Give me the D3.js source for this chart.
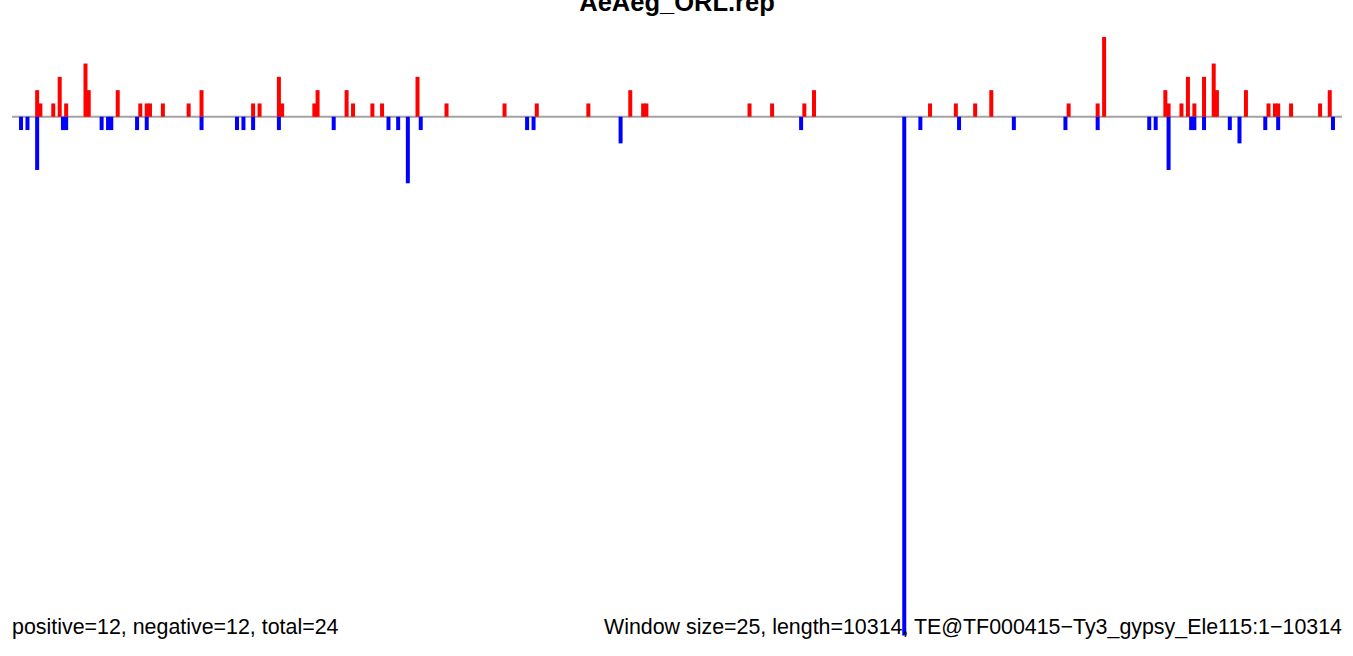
<!DOCTYPE html>
<html>
<head>
<meta charset="utf-8">
<script src="https://cdn.jsdelivr.net/npm/d3@7"></script>
<style>
  html, body { margin: 0; padding: 0; background: #fff; }
  svg { display: block; font-family: "Liberation Sans", Arial, Helvetica, sans-serif; }
</style>
</head>
<body>
<svg id="chart" width="1353" height="656"></svg>
<script>
// ---- Data (window index along the element, count per window) ----
const title = "AeAeg_ORL.rep";
const leftNote = "positive=12, negative=12, total=24";
const rightNote = "Window size=25, length=10314, TE@TF000415\u2212Ty3_gypsy_Ele115:1\u221210314";

const posIndex = [7, 8, 12, 14, 16, 22, 23, 32, 39, 41, 42, 46, 54, 58,
  74, 76, 82, 83, 93, 94, 103, 105, 111, 114, 125, 134,
  152, 162, 178, 191, 195, 196,
  228, 235, 245, 248,
  284, 292, 298, 303, 327, 336, 338,
  357, 358, 362, 364, 366, 369, 372, 373, 382, 389, 391, 392, 396, 405, 408];
const posValue = [2, 1, 1, 3, 1, 4, 2, 2, 1, 1, 1, 1, 1, 2,
  1, 1, 3, 1, 1, 2, 2, 1, 1, 1, 3, 1,
  1, 1, 1, 2, 1, 1,
  1, 1, 1, 2,
  1, 1, 1, 2, 1, 1, 6,
  2, 1, 1, 3, 1, 3, 4, 2, 2, 1, 1, 1, 1, 1, 2];

const negIndex = [2, 4, 7, 15, 16, 27, 29, 30, 38, 41, 58,
  69, 71, 74, 82, 99, 116, 119, 122, 126,
  159, 161, 188, 244,
  276, 281, 293, 310, 326, 336,
  352, 354, 358, 365, 366, 369, 377, 380, 388, 392, 409];
const negValue = [-1, -1, -4, -1, -1, -1, -1, -1, -1, -1, -1,
  -1, -1, -1, -1, -1, -1, -1, -5, -1,
  -1, -1, -2, -1,
  -39, -1, -1, -1, -1, -1,
  -1, -1, -4, -1, -1, -1, -1, -2, -1, -1, -1];

// ---- Layout ----
const W = 1353, H = 656;
const plot = { left: 12, right: 1342, top: 13, bottom: 659.5 };

const svg = d3.select("#chart");

const pos = posIndex.map((d, i) => ({ x: d, v: posValue[i] }));
const neg = negIndex.map((d, i) => ({ x: d, v: negValue[i] }));
const all = pos.concat(neg);

const x = d3.scaleLinear().domain([-0.8, 411.8]).range([plot.left, plot.right]);
const yExt = d3.extent(all, d => d.v);
const pad = (yExt[1] - yExt[0]) * 0.04;
const y = d3.scaleLinear().domain([yExt[0] - pad, yExt[1] + pad]).range([plot.bottom, plot.top]);

// baseline
svg.append("line")
  .attr("x1", plot.left).attr("x2", plot.right)
  .attr("y1", y(0)).attr("y2", y(0))
  .attr("stroke", "#a3a3a3").attr("stroke-width", 2);

const barW = 4;
svg.append("g").selectAll("rect.pos").data(pos).join("rect")
  .attr("class", "pos")
  .attr("x", d => x(d.x) - barW / 2)
  .attr("width", barW)
  .attr("y", d => y(d.v))
  .attr("height", d => y(0) - y(d.v))
  .attr("fill", "#ff0000");

svg.append("g").selectAll("rect.neg").data(neg).join("rect")
  .attr("class", "neg")
  .attr("x", d => x(d.x) - barW / 2)
  .attr("width", barW)
  .attr("y", y(0))
  .attr("height", d => y(d.v) - y(0))
  .attr("fill", "#0000ff");

// title (partly cut off at the top, as in the original)
svg.append("text")
  .attr("x", (plot.left + plot.right) / 2)
  .attr("y", 11)
  .attr("text-anchor", "middle")
  .attr("font-weight", "bold")
  .attr("font-size", 25.5)
  .attr("fill", "#000")
  .text(title);

svg.append("text")
  .attr("x", plot.left)
  .attr("y", 634)
  .attr("text-anchor", "start")
  .attr("font-size", 21.4)
  .attr("fill", "#000")
  .text(leftNote);

svg.append("text")
  .attr("x", plot.right)
  .attr("y", 634)
  .attr("text-anchor", "end")
  .attr("font-size", 21.4)
  .attr("fill", "#000")
  .text(rightNote);
</script>
</body>
</html>
